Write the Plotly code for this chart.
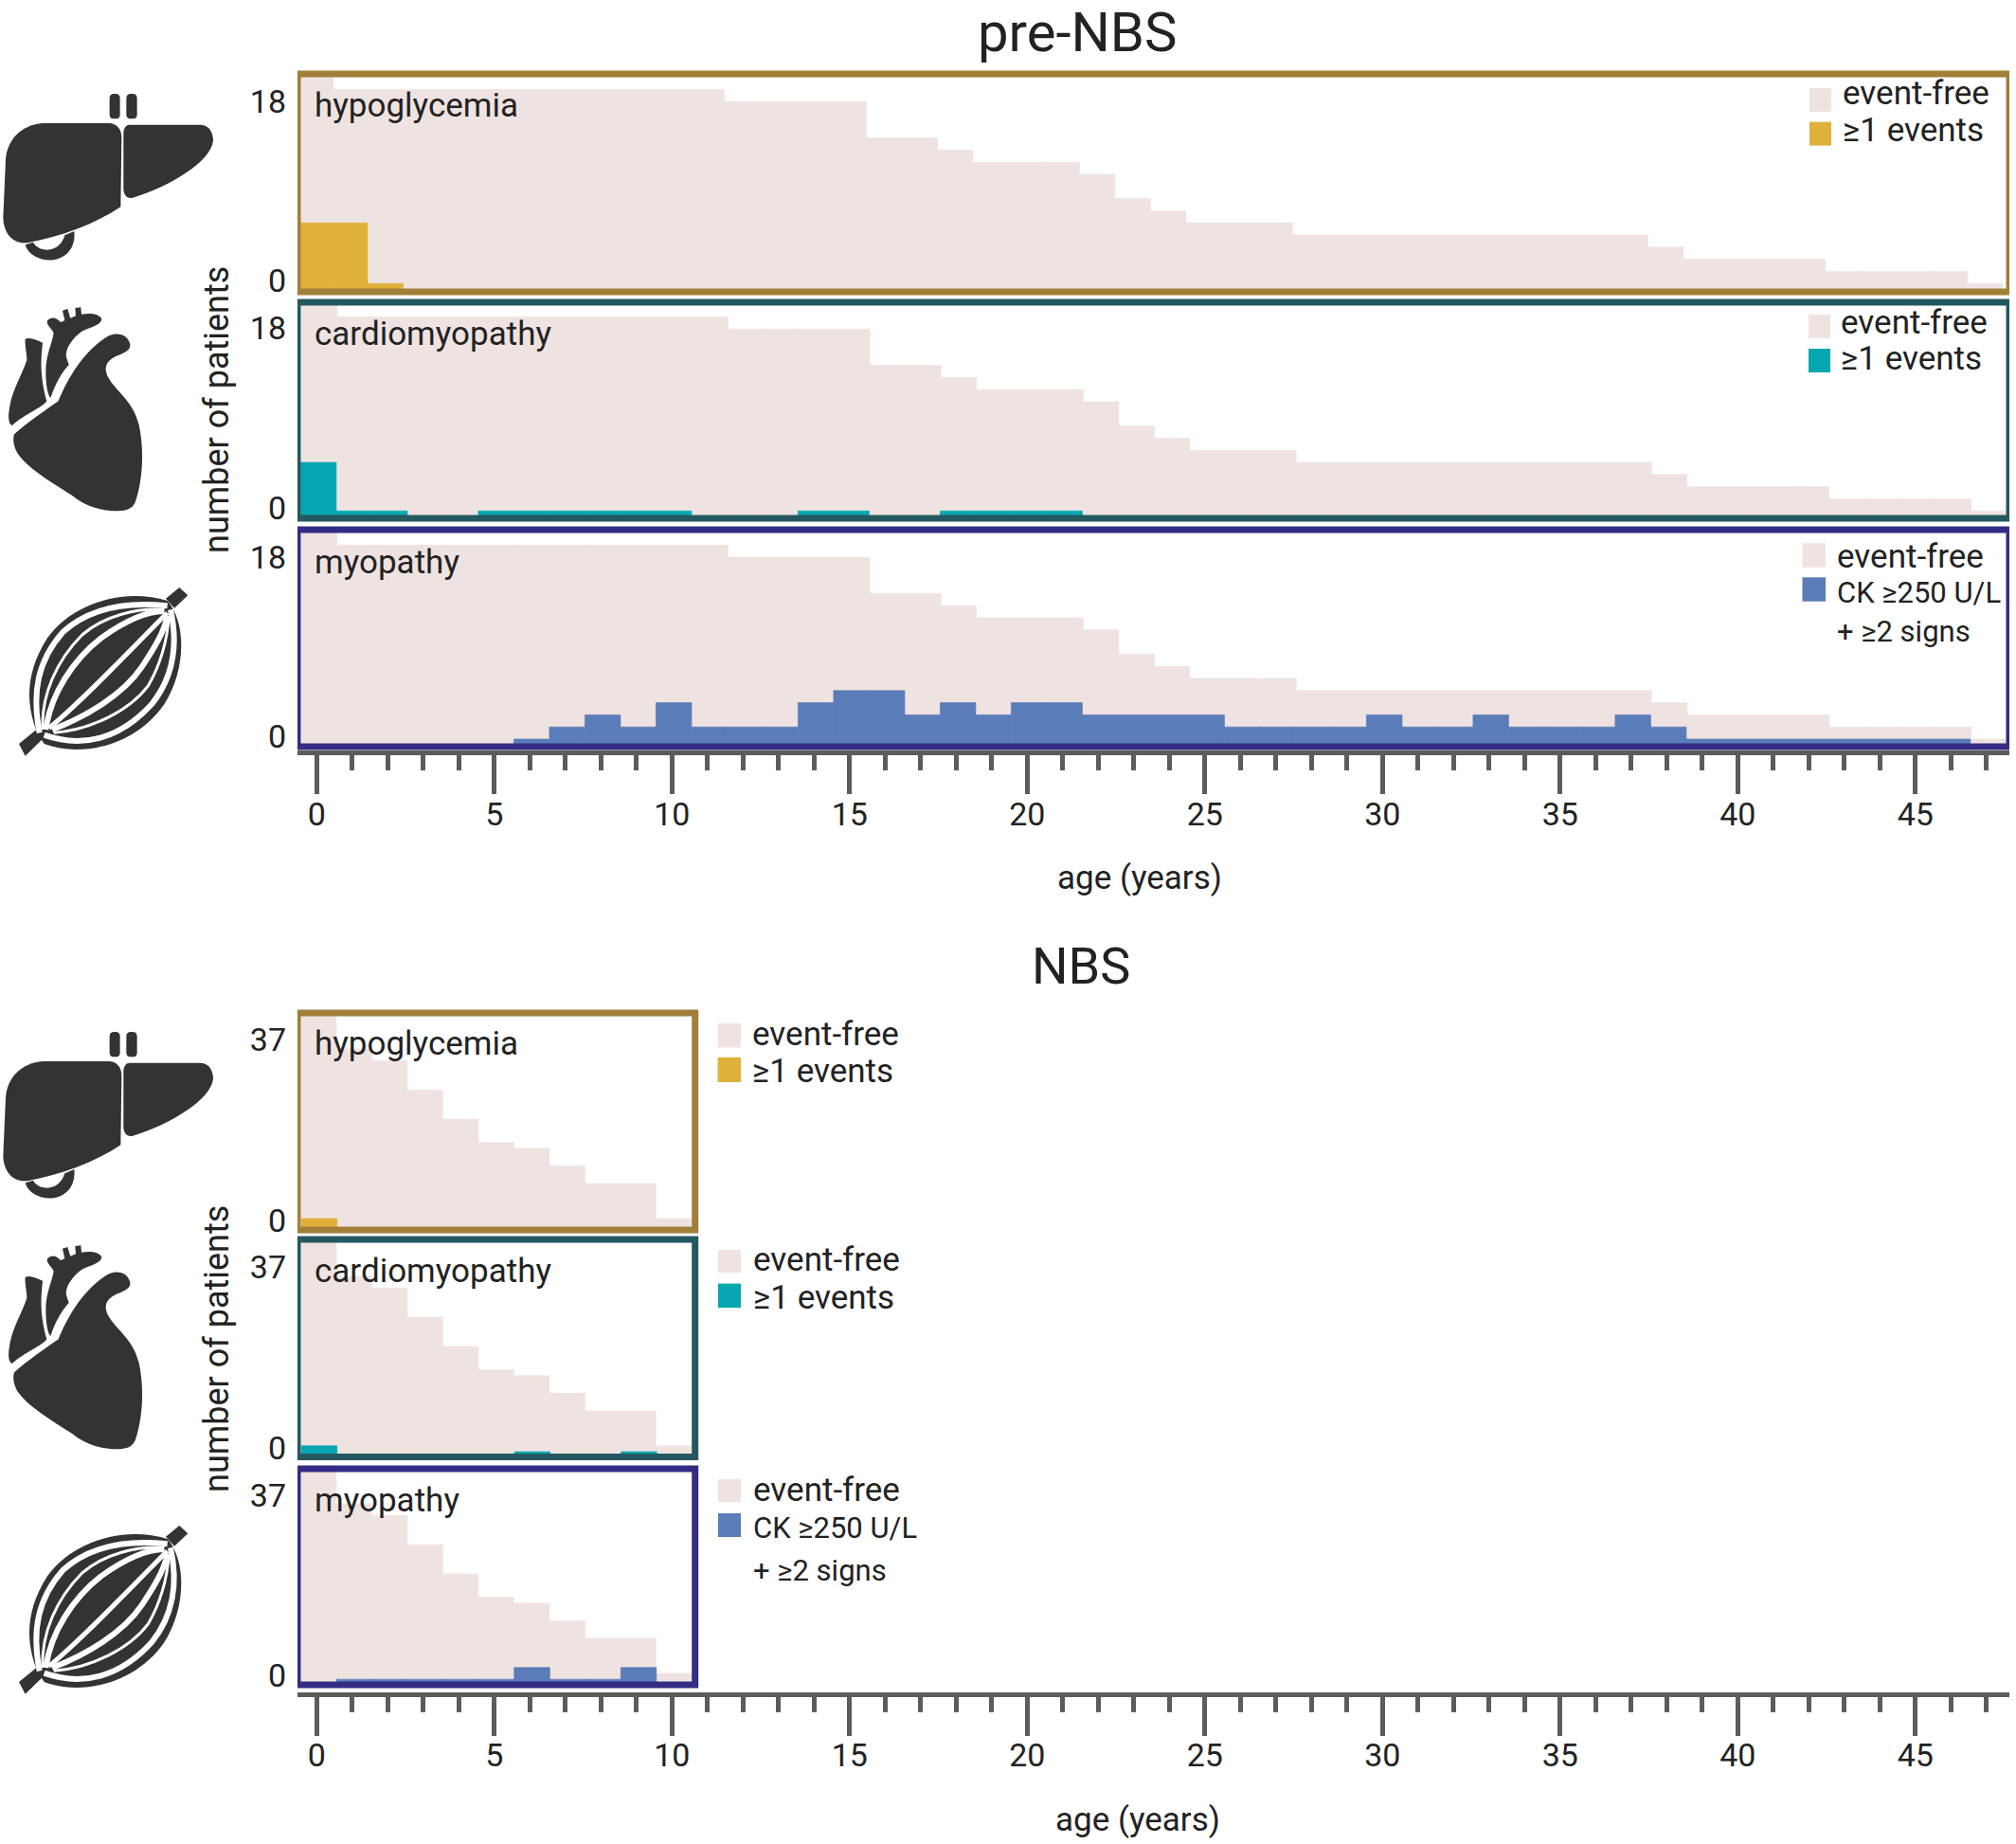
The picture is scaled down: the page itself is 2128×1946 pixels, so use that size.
import re
import plotly.graph_objects as go

W, H = 2128, 1946

# ---------- data ----------
ages_pre = list(range(48))
ages_nbs = list(range(11))

pre_event_free = [18] + [17]*11 + [16]*4 + [13]*2 + [12] + [11]*3 + [10, 8, 7] + [6]*3 + [5]*10 + [4] + [3]*4 + [2]*4 + [1]
pre_hypoglycemia = [6, 6, 1] + [0]*45
pre_cardiomyopathy = [5, 1, 1, 0, 0, 1, 1, 1, 1, 1, 1, 0, 0, 0, 1, 1, 0, 0, 1, 1, 1, 1] + [0]*26
pre_myopathy = [0, 0, 0, 0, 0, 0, 1, 2, 3, 2, 4, 2, 2, 2, 4, 5, 5, 3, 4, 3, 4, 4, 3, 3, 3, 3,
                2, 2, 2, 2, 3, 2, 2, 3, 2, 2, 2, 3, 2, 1, 1, 1, 1, 1, 1, 1, 1, 0]

nbs_event_free = [37, 31, 29, 24, 19, 15, 14, 11, 8, 8, 2]
nbs_hypoglycemia = [2, 0, 0, 0, 0, 0, 0, 0, 0, 0, 0]
nbs_cardiomyopathy = [2, 0, 0, 0, 0, 0, 1, 0, 0, 1, 0]
nbs_myopathy = [0, 1, 1, 1, 1, 1, 3, 1, 1, 3, 0]

age_ticks = [0, 5, 10, 15, 20, 25, 30, 35, 40, 45]
panel_names = ["hypoglycemia", "cardiomyopathy", "myopathy"]
legend_free = "event-free"
legend_event = "≥1 events"
legend_ck = "CK ≥250 U/L"
legend_signs = "+ ≥2 signs"

# ---------- styles ----------
PALE = "#EFE3E1"
EVENT = ["#DFB13B", "#05A6B0", "#5A7DB9"]
FRAME = ["#A17F39", "#24585F", "#332C84"]
TICK = "#5C5C5C"
INK = "#222222"
ICON = "#333333"
FONT = "Roboto"
TXT = 35


def fx(p):
    return p / W


def fy(p):
    return 1 - p / H


X0, X1 = 314, 2121            # pixel span of every age axis
PX_PER_YEAR, AGE0_PX = 37.5, 334.3
age_range = [(X0 - AGE0_PX) / PX_PER_YEAR, (X1 - AGE0_PX) / PX_PER_YEAR]

panels = [
    dict(top=78, bot=308, base=312, unit=12.8, lt=107, l0=296, off=-0.53, ev=-0.57, ymax="18", cat=0, grp="pre"),
    dict(top=319, bot=547, base=552, unit=12.8, lt=346, l0=536, off=-0.43, ev=-0.45, ymax="18", cat=1, grp="pre"),
    dict(top=559, bot=788, base=792.8, unit=12.8, lt=588, l0=777, off=-0.43, ev=-0.45, ymax="18", cat=2, grp="pre"),
    dict(top=1069, bot=1298, base=1298.3, unit=6.17, lt=1097, l0=1288, off=-0.45, ev=-0.43, ymax="37", cat=0, grp="nbs"),
    dict(top=1308, bot=1537.6, base=1538.2, unit=6.17, lt=1337, l0=1528, off=-0.45, ev=-0.43, ymax="37", cat=1, grp="nbs"),
    dict(top=1550, bot=1778, base=1778.3, unit=6.17, lt=1578, l0=1768, off=-0.45, ev=-0.44, ymax="37", cat=2, grp="nbs"),
]
series = {
    "pre": (ages_pre, pre_event_free, [pre_hypoglycemia, pre_cardiomyopathy, pre_myopathy]),
    "nbs": (ages_nbs, nbs_event_free, [nbs_hypoglycemia, nbs_cardiomyopathy, nbs_myopathy]),
}
RULER_PX = {"pre": 794, "nbs": 1787.7}
STANDOFF = {"pre": -8, "nbs": -9}
RIGHT_AGE = {"pre": age_range[1], "nbs": (733.7 - AGE0_PX) / PX_PER_YEAR}

fig = go.Figure()
layout = {}
shapes = []
annotations = []


def note(text, x, y, size=TXT, anchor="left", angle=0):
    annotations.append(dict(text=text, x=fx(x), y=fy(y), xref="paper", yref="paper", showarrow=False,
                            xanchor=anchor, yanchor="middle", textangle=angle,
                            font=dict(family=FONT, size=size, color=INK)))


for i, p in enumerate(panels, start=1):
    ages, free, events = series[p["grp"]]
    ev = events[p["cat"]]
    suffix = "" if i == 1 else str(i)
    xa, ya = "x" + suffix, "y" + suffix
    fig.add_trace(go.Bar(x=ages, y=free, width=1, offset=p["off"],
                         marker=dict(color=PALE, line=dict(color=PALE, width=0.7)),
                         xaxis=xa, yaxis=ya, showlegend=False, name=legend_free))
    fig.add_trace(go.Bar(x=ages, y=ev, width=1, offset=p["ev"],
                         marker=dict(color=EVENT[p["cat"]], line=dict(color=EVENT[p["cat"]], width=0.7)),
                         xaxis=xa, yaxis=ya, showlegend=False, name=panel_names[p["cat"]]))
    is_ruler = p["cat"] == 2
    xcfg = dict(domain=[fx(X0), fx(X1)], range=age_range, anchor="free" if is_ruler else ya, automargin=False,
                position=fy(RULER_PX[p["grp"]]) if is_ruler else None, zeroline=False, showgrid=False)
    if is_ruler:
        xcfg.update(showline=True, linecolor=TICK, linewidth=5, ticks="outside", ticklen=41, tickwidth=5,
                    tickcolor=TICK, tickmode="array", tickvals=age_ticks, ticktext=[str(a) for a in age_ticks],
                    tickfont=dict(family=FONT, size=34, color=INK), ticklabelstandoff=STANDOFF[p["grp"]],
                    minor=dict(tick0=0, dtick=1, ticks="outside", ticklen=16, tickwidth=5, tickcolor=TICK))
    else:
        xcfg.update(visible=False)
    layout["xaxis" + suffix] = {k: v for k, v in xcfg.items() if v is not None}
    layout["yaxis" + suffix] = dict(
        domain=[fy(p["bot"]), fy(p["top"])],
        range=[(p["base"] - p["bot"]) / p["unit"], (p["base"] - p["top"]) / p["unit"]],
        anchor=xa, showgrid=False, zeroline=False, showline=False, ticks="", automargin=False,
        tickmode="array",
        tickvals=[(p["base"] - p["lt"]) / p["unit"], (p["base"] - p["l0"]) / p["unit"]],
        ticktext=[p["ymax"], "0"], ticklabelstandoff=11,
        tickfont=dict(family=FONT, size=34, color=INK))
    shapes.append(dict(type="rect", xref=xa, yref=ya + " domain", x0=age_range[0], x1=RIGHT_AGE[p["grp"]], y0=0, y1=1,
                       line=dict(color=FRAME[p["cat"]], width=7), fillcolor="rgba(0,0,0,0)", layer="above"))

# panel names
for (y, name) in zip([112, 352, 593, 1101, 1341, 1583], panel_names * 2):
    note(name, 330, y)

# legends: swatch left, swatch right, pale y, event y, text x, text centres
legends = [
    (1910, 1933, (93, 118), (128.6, 153.6), 1943, (98, 137, None), 0),
    (1909, 1932, (332, 357), (368, 393), 1940.6, (341, 379, None), 1),
    (1902.5, 1927, (573.3, 598.7), (609.3, 634.7), 1937, (587, 625, 667), 2),
    (757.6, 782, (1080, 1105.4), (1115.8, 1142), 792, (1091, 1130, None), 0),
    (758, 782, (1319, 1343), (1354.6, 1380), 793, (1329, 1369, None), 1),
    (758, 782, (1561, 1585), (1597, 1622), 793, (1572, 1612, 1657), 2),
]
for xa_, xb_, pale, evy, tx, (t1, t2, t3), cat in legends:
    for rng, col in ((pale, PALE), (evy, EVENT[cat])):
        shapes.append(dict(type="rect", xref="paper", yref="paper", x0=fx(xa_), x1=fx(xb_), y0=fy(rng[1]), y1=fy(rng[0]),
                           fillcolor=col, line_width=0, layer="above"))
    note(legend_free, tx, t1)
    if t3 is None:
        note(legend_event, tx, t2)
    else:
        note(legend_ck, tx, t2, size=31)
        note(legend_signs, tx, t3, size=31)

# titles
note("pre-NBS", 1137, 34, size=58, anchor="center")
note("NBS", 1141, 1019, size=54, anchor="center")
note("age (years)", 1203, 926, anchor="center")
note("age (years)", 1201, 1920, anchor="center")
note("number of patients", 229, 433, anchor="center", angle=-90, size=36)
note("number of patients", 229, 1424, anchor="center", angle=-90, size=36)


# ---------- anatomical icons (decoration, in zoom-pixel space) ----------
def place(path, ox, oy, k=1 / 3):
    out, is_x = [], True
    for tok in re.findall(r"[A-Za-z]|-?\d+\.?\d*", path):
        if tok.isalpha():
            out.append(tok)
            continue
        v = float(tok)
        if is_x:
            out.append(f"{fx(ox + v * k):.5f}")
        else:
            out.append(f"{fy(oy + v * k):.5f}")
        is_x = not is_x
    return " ".join(out)


def add_fill(path, ox, oy):
    shapes.append(dict(type="path", xref="paper", yref="paper", path=place(path, ox, oy), fillcolor=ICON,
                       line=dict(width=0), layer="above"))


def add_line(path, ox, oy, width, color="white"):
    shapes.append(dict(type="path", xref="paper", yref="paper", path=place(path, ox, oy),
                       fillcolor="rgba(0,0,0,0)", line=dict(color=color, width=width), layer="above"))


def rrect(x0, y0, x1, y1, r):
    return (f"M {x0+r} {y0} L {x1-r} {y0} Q {x1} {y0} {x1} {y0+r} L {x1} {y1-r} Q {x1} {y1} {x1-r} {y1} "
            f"L {x0+r} {y1} Q {x0} {y1} {x0} {y1-r} L {x0} {y0+r} Q {x0} {y0} {x0+r} {y0} Z")


LIVER = [
    "M 135 120 L 345 120 C 370 120 385 140 385 165 L 382 385 C 300 440 190 480 90 498 C 40 505 12 470 10 420 L 18 235 C 22 170 70 125 135 120 Z",
    "M 410 125 L 635 125 C 665 125 675 155 675 175 C 670 240 540 320 420 356 C 400 360 392 345 391 330 L 391 150 C 392 135 400 125 410 125 Z",
    rrect(347, 27, 380, 106, 14),
    rrect(400, 27, 434, 106, 14),
    "M 80 505 C 90 540 130 557 170 553 C 215 545 240 510 235 462 L 205 475 C 195 510 165 525 140 520 C 125 517 112 510 105 497 Z",
]
HEART = [
    "M 45 430 C 90 390 150 350 185 325 C 215 250 270 160 345 118 C 375 105 405 115 412 145 C 415 170 380 175 355 190 C 335 205 330 220 340 245 C 370 300 420 320 440 400 C 455 470 455 560 430 640 C 420 670 395 675 350 672 C 300 668 260 650 230 625 C 160 580 90 540 55 490 C 42 465 40 445 45 430 Z",
    "M 80 128 C 95 122 115 130 135 140 C 130 190 125 240 148 325 C 135 345 80 365 38 402 C 25 395 25 370 32 335 C 40 290 70 240 85 195 C 85 170 78 150 80 128 Z",
    "M 150 70 C 165 55 180 62 192 75 L 205 70 L 198 38 L 214 33 L 223 62 L 240 55 L 238 30 L 256 28 L 258 50 C 285 45 315 48 322 65 C 320 85 285 90 258 105 C 230 125 205 160 210 185 L 218 210 C 195 235 175 270 160 315 C 150 305 145 270 145 230 C 145 180 165 140 170 110 C 165 95 145 85 150 70 Z",
]
MUSCLE_BODY = "M 90 495 C 50 400 50 300 120 190 C 200 80 360 30 500 72 C 560 140 560 290 490 400 C 400 530 230 570 110 525 Z"
MUSCLE_TENDON = ["M 30 525 L 88 478 L 110 505 L 50 563 Z", "M 495 65 L 538 30 L 565 55 L 522 95 Z"]
MUSCLE_WHITE = [
    ("M 95 490 C 70 360 90 260 170 170 C 260 90 380 75 500 88", 6),
    ("M 110 497 C 230 540 350 510 450 400 C 530 300 530 190 510 100", 6),
    ("M 105 480 C 100 370 150 260 230 180 C 300 120 400 95 490 100", 3),
    ("M 115 480 C 130 370 200 260 290 190 C 360 140 430 105 490 105", 6),
    ("M 125 475 C 230 390 370 240 500 110", 5),
    ("M 135 480 C 240 440 360 370 420 280 C 460 220 490 170 500 120", 6),
    ("M 140 490 C 260 480 380 420 440 340 C 480 270 500 190 505 120", 3),
]
for dy in (0, 990):
    for pth in LIVER:
        add_fill(pth, 0, 90 + dy)
    for pth in HEART:
        add_fill(pth, 0, 315 + dy)
    for pth in MUSCLE_TENDON:
        add_fill(pth, 10, 610 + dy)
    add_fill(MUSCLE_BODY, 10, 610 + dy)
    for pth, wd in MUSCLE_WHITE:
        add_line(pth, 10, 610 + dy, wd)

fig.update_layout(width=W, height=H, autosize=False, margin=dict(l=0, r=0, t=0, b=0), barmode="overlay",
                  paper_bgcolor="white", plot_bgcolor="white", showlegend=False,
                  shapes=shapes, annotations=annotations, **layout)
fig.write_html("out.html", config={"displayModeBar": False}, post_script="document.body.style.margin='0';")
